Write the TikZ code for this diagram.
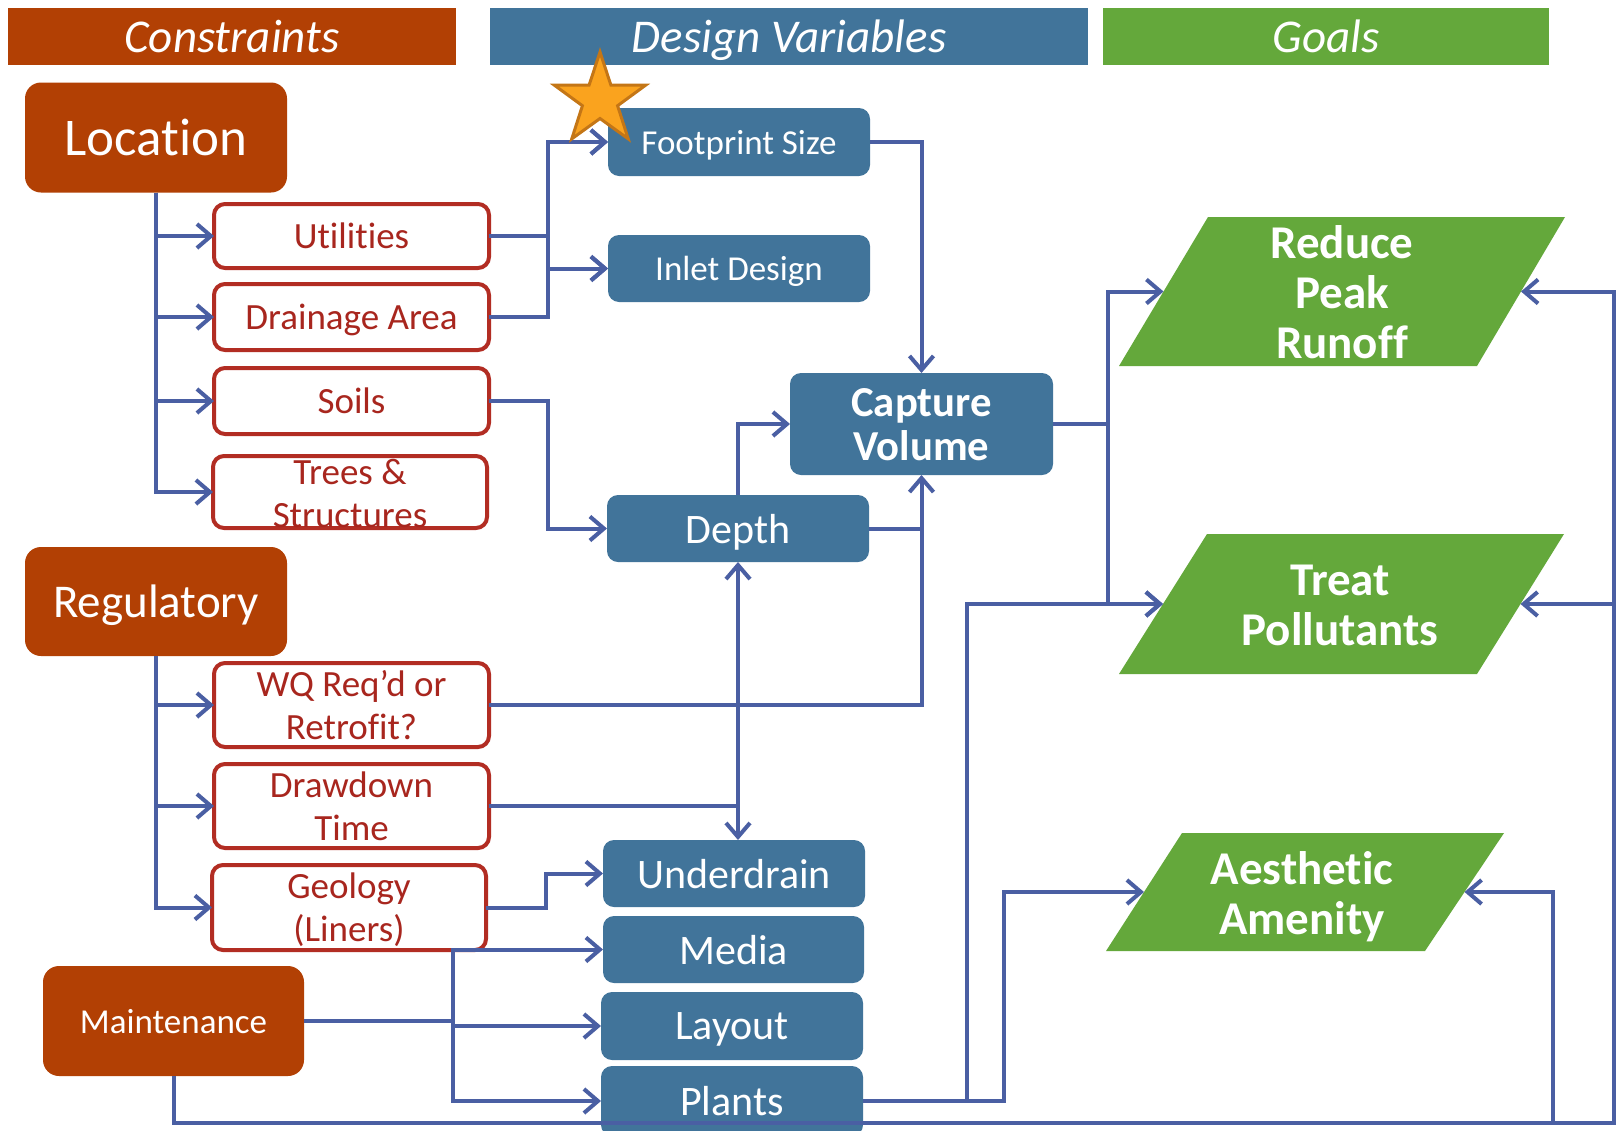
\documentclass[tikz,border=0pt]{standalone}
\usepackage{fontspec}
\setmainfont{Carlito}[Ligatures={NoCommon,NoContextual}]
\usetikzlibrary{arrows.meta,calc}
\definecolor{conC}{RGB}{178,64,4}
\definecolor{desC}{RGB}{65,116,154}
\definecolor{goalC}{RGB}{100,168,59}
\definecolor{lineC}{RGB}{74,95,163}
\definecolor{redB}{RGB}{178,45,35}
\definecolor{redT}{RGB}{168,38,30}
\definecolor{starF}{RGB}{250,163,30}
\definecolor{starD}{RGB}{196,118,22}
\begin{document}
\begin{tikzpicture}[x=1pt,y=-1pt,
  every node/.style={inner sep=0pt,outer sep=0pt,text depth=0pt},
  header/.style={fill=#1,minimum height=57pt,text=white,font=\fontsize{47}{50}\selectfont\itshape},
  cbox/.style={fill=conC,rounded corners=16pt,text=white,minimum width=262pt,minimum height=110pt},
  rbox/.style={draw=redB,line width=4pt,fill=white,rounded corners=11pt,minimum width=275pt,text=redT,font=\fontsize{37}{43}\selectfont,align=center},
  rtext/.style={text=redT,font=\fontsize{37}{43}\selectfont,align=center},
  bbox/.style={fill=desC,rounded corners=11pt,text=white,minimum width=262pt,minimum height=67pt,font=\fontsize{42}{45}\selectfont,align=center},
  goaltext/.style={text=white,font=\fontsize{47}{50}\selectfont\bfseries,align=center},
  conn/.style={draw=lineC,line width=4pt,line join=miter},
  arr/.style={conn,-{Straight Barb[length=14pt,width=24pt]}},
]
\fill[white] (0,0) rectangle (1617,1130);
\useasboundingbox (0,0) rectangle (1617,1130);

% headers
\node[header=conC,minimum width=448pt] (hc) at (232,36.5) {Constraints};
\node[header=desC,minimum width=598pt] (hd) at (789,36.5) {Design Variables};
\node[header=goalC,minimum width=446pt] (hg) at (1326,36.5) {Goals};

% constraints
\node[cbox,font=\fontsize{53}{56}\selectfont] (loc) at (156,137.5) {Location};
\node[cbox,font=\fontsize{47}{50}\selectfont,minimum height=109pt] (reg) at (156,601.5) {Regulatory};
\node[cbox,font=\fontsize{35}{38}\selectfont,minimum width=261pt] (maint) at (173.5,1021) {Maintenance};

\node[rbox,minimum height=64pt] (util) at (351.5,236) {Utilities};
\node[rbox,minimum height=66pt] (drain) at (351.5,317) {Drainage Area};
\node[rbox,minimum height=66pt] (soils) at (351.5,401) {Soils};
\node[rbox,minimum height=72pt,minimum width=274pt] (trees) at (350,492) {};
\node[rtext] (treest) at (350,493) {Trees \&\\Structures};
\node[rbox,minimum height=84pt] (wq) at (351.5,705) {WQ Req’d or\\Retrofit?};
\node[rbox,minimum height=84pt] (dd) at (351.5,806) {Drawdown\\Time};
\node[rbox,minimum height=85pt,minimum width=274pt] (geo) at (349,907.5) {Geology\\(Liners)};

% design variables
\node[bbox,font=\fontsize{35}{38}\selectfont,minimum height=68pt] (fp) at (739,142) {Footprint Size};
\node[bbox,font=\fontsize{35}{38}\selectfont] (inlet) at (739,268.5) {Inlet Design};
\node[bbox,font=\fontsize{42.7}{44}\selectfont\bfseries,minimum width=263pt,minimum height=102pt] (cap) at (921.5,424) {Capture\\Volume};
\node[bbox] (depth) at (738,528.5) {Depth};
\node[bbox] (ud) at (734,873.5) {Underdrain};
\node[bbox,minimum width=261pt] (media) at (733.5,949.5) {Media};
\node[bbox,minimum height=68pt] (layout) at (732,1026) {Layout};
\node[bbox,minimum height=70pt] (plants) at (732,1101) {Plants};

% goals
\fill[goalC] (1208,217) coordinate (r1) -- (1565,217) coordinate (r2) -- (1477,366) coordinate (r3) -- (1119,366) coordinate (r4) -- cycle;
\fill[goalC] (1207,534) coordinate (t1) -- (1564,534) coordinate (t2) -- (1477,674) coordinate (t3) -- (1119,674) coordinate (t4) -- cycle;
\fill[goalC] (1182,833) coordinate (a1) -- (1504,833) coordinate (a2) -- (1425,951) coordinate (a3) -- (1106,951) coordinate (a4) -- cycle;
\coordinate (rl) at ($(r1)!0.5!(r4)$);
\coordinate (rr) at ($(r2)!0.5!(r3)$);
\coordinate (tl) at ($(t1)!0.5!(t4)$);
\coordinate (tr) at ($(t2)!0.5!(t3)$);
\coordinate (al) at ($(a1)!0.5!(a4)$);
\coordinate (ar) at ($(a2)!0.5!(a3)$);
\node[goaltext] (reduce) at (1342,292) {Reduce\\Peak\\Runoff};
\node[goaltext] (treat) at (1340,605) {Treat\\Pollutants};
\node[goaltext] (aest) at (1302,893) {Aesthetic\\Amenity};

% connectors: location
\draw[arr] (loc.south) |- (util.west);
\draw[arr] (loc.south) |- (drain.west);
\draw[arr] (loc.south) |- (soils.west);
\draw[arr] (loc.south) |- (trees.west);
% regulatory
\draw[arr] (reg.south) |- (wq.west);
\draw[arr] (reg.south) |- (dd.west);
\draw[arr] (reg.south) |- (geo.west);
% utilities & drainage
\draw[arr] (util.east) -- (548,236) |- (fp.west);
\draw[arr] (util.east) -- (548,236) |- (inlet.west);
\draw[arr] (drain.east) -- (548,317) |- (inlet.west);
\draw[arr] (drain.east) -- (548,317) |- (fp.west);
% soils
\draw[arr] (soils.east) -- (548,401) |- (depth.west);
% footprint
\draw[arr] (fp.east) -| (cap.north);
% depth
\draw[arr] (depth.north) |- (cap.west);
\draw[conn] (depth.east) -- (cap.south |- depth.east);
% wq
\draw[arr] (wq.east) -| (cap.south);
% drawdown
\draw[arr] (dd.east) -| (depth.south);
\draw[arr] (depth.south |- dd.east) -- (depth.south |- ud.north);
% geology
\draw[arr] (geo.east) -- (546,907.5) |- (ud.west);
% maintenance
\draw[conn] (maint.east) -- (453,1021);
\draw[arr] (453,1021) |- (media.west);
\draw[arr] (453,1021) |- (layout.west);
\draw[arr] (453,1021) |- (plants.west);
\draw[arr] (maint.south) |- (1614,1123) |- (rr);
\draw[arr] (1614,604) -- (tr);
\draw[arr] (1553,1123) |- (ar);
% capture to goals
\draw[conn] (cap.east) -- (1108,424);
\draw[arr] (1108,424) |- (rl);
\draw[arr] (1108,424) |- (tl);
% plants to goals
\draw[arr] (plants.east) -- (967,1101) |- (tl);
\draw[arr] (plants.east) -- (1004,1101) |- (al);

% star
\draw[fill=starF,draw=starD,line width=3pt,line join=miter] (600,100) +(270:48) -- +(306:18.5) -- +(342:48) -- +(18:18.5) -- +(54:48) -- +(90:18.5) -- +(126:48) -- +(162:18.5) -- +(198:48) -- +(234:18.5) -- cycle;
\end{tikzpicture}
\end{document}
